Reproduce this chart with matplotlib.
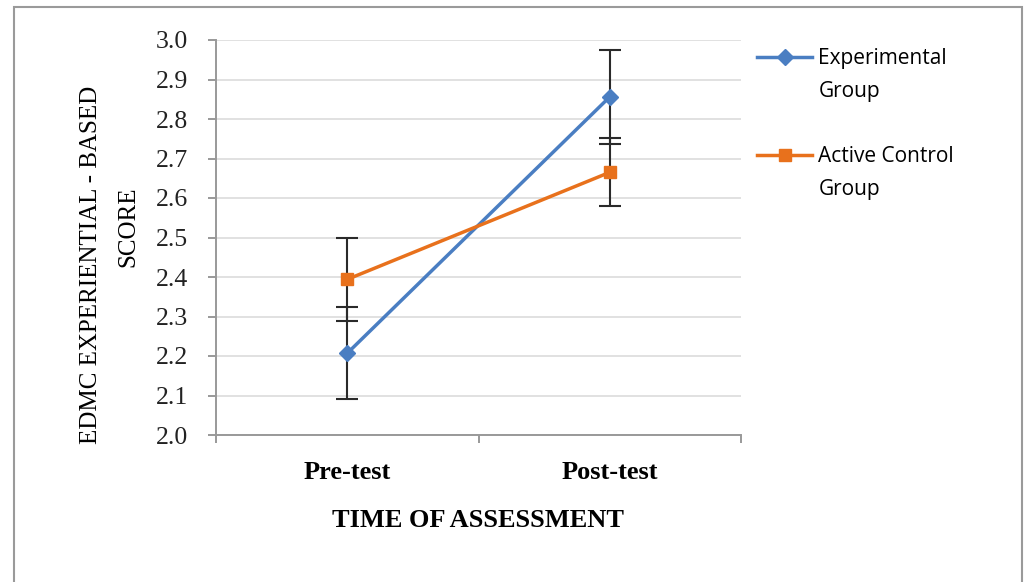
import matplotlib.pyplot as plt
from matplotlib.lines import Line2D
from matplotlib.patches import Rectangle

# data
timepoints = ['Pre-test', 'Post-test']
experimental_mean = [2.207, 2.856]
experimental_err = [0.116, 0.119]
control_mean = [2.394, 2.665]
control_err = [0.106, 0.086]
y_ticks = [2.0, 2.1, 2.2, 2.3, 2.4, 2.5, 2.6, 2.7, 2.8, 2.9, 3.0]

BLUE = '#4A7EC2'
ORANGE = '#E8711C'
SERIF = 'Liberation Serif'
W, H = 1028, 582


def plot_chart():
    fig = plt.figure(figsize=(W / 100, H / 100), dpi=100)
    ax = fig.add_axes([216 / W, 1 - 435 / H, 525 / W, 395 / H])

    # outer frame (open at the bottom, as in the cropped reference)
    fig.patches.append(Rectangle((14 / W, -0.1), 1008 / W, 1.1 - 7 / H,
                                 transform=fig.transFigure, fill=False,
                                 edgecolor='#9a9a9a', linewidth=1.5))

    x = list(range(len(timepoints)))

    ax.errorbar(x, experimental_mean, yerr=experimental_err, fmt='none',
                ecolor='#2a2a2a', elinewidth=1.5, capsize=8, capthick=1.5, zorder=3)
    ax.errorbar(x, control_mean, yerr=control_err, fmt='none',
                ecolor='#2a2a2a', elinewidth=1.5, capsize=8, capthick=1.5, zorder=3)

    exp_line, = ax.plot(x, experimental_mean, color=BLUE, linewidth=2.5, marker='D',
                        markersize=8, zorder=4)
    ctl_line, = ax.plot(x, control_mean, color=ORANGE, linewidth=2.5, marker='s',
                        markersize=9, zorder=4)

    ax.set_xlim(-0.5, 1.5)
    ax.set_ylim(2.0, 3.0)
    ax.set_yticks(y_ticks)
    ax.set_yticklabels([f'{t:.1f}' for t in y_ticks], fontfamily=SERIF, fontsize=18.5)
    ax.set_xticks([-0.5, 0.5, 1.5])
    ax.set_xticklabels([])
    ax.set_xticks(x, minor=True)
    ax.set_xticklabels(timepoints, minor=True, fontfamily=SERIF,
                       fontsize=19, fontweight='bold')
    ax.tick_params(axis='x', which='minor', length=0, pad=19)
    ax.tick_params(axis='x', which='major', length=6, color='#888888', width=1.2)
    ax.tick_params(axis='y', length=6, color='#888888', width=1.2, pad=14,
                   labelcolor='#222222')

    ax.grid(axis='y', color='#dcdcdc', linewidth=1.2)
    ax.set_axisbelow(True)
    for side in ['top', 'right']:
        ax.spines[side].set_visible(False)
    for side in ['left', 'bottom']:
        ax.spines[side].set_color('#999999')
        ax.spines[side].set_linewidth(1.4)

    ax.set_xlabel('TIME OF ASSESSMENT', fontfamily=SERIF, fontsize=19,
                  fontweight='bold', labelpad=18)

    # y title: two lines, each centred on its own as in the reference
    fig.text(91 / W, 1 - 265 / H, 'EDMC EXPERIENTIAL - BASED', rotation=90,
             ha='center', va='center', fontfamily=SERIF, fontsize=18)
    fig.text(128 / W, 1 - 227 / H, 'SCORE', rotation=90,
             ha='center', va='center', fontfamily=SERIF, fontsize=18)

    # legend: handle sits beside the first line of each two-line label
    blank = Line2D([], [], linestyle='none')
    handles = [exp_line, blank, blank, ctl_line, blank]
    labels = ['Experimental', 'Group', '', 'Active Control', 'Group']
    fig.legend(handles, labels, loc='upper left',
               bbox_to_anchor=(757 / W, 1 - 48 / H),
               frameon=False, prop={'family': 'Open Sans', 'size': 15},
               handlelength=2.65, handletextpad=0.3, labelspacing=0.56,
               borderaxespad=0, borderpad=0)

    fig.savefig('out.png', dpi=100)


def main():
    plot_chart()


if __name__ == '__main__':
    main()
